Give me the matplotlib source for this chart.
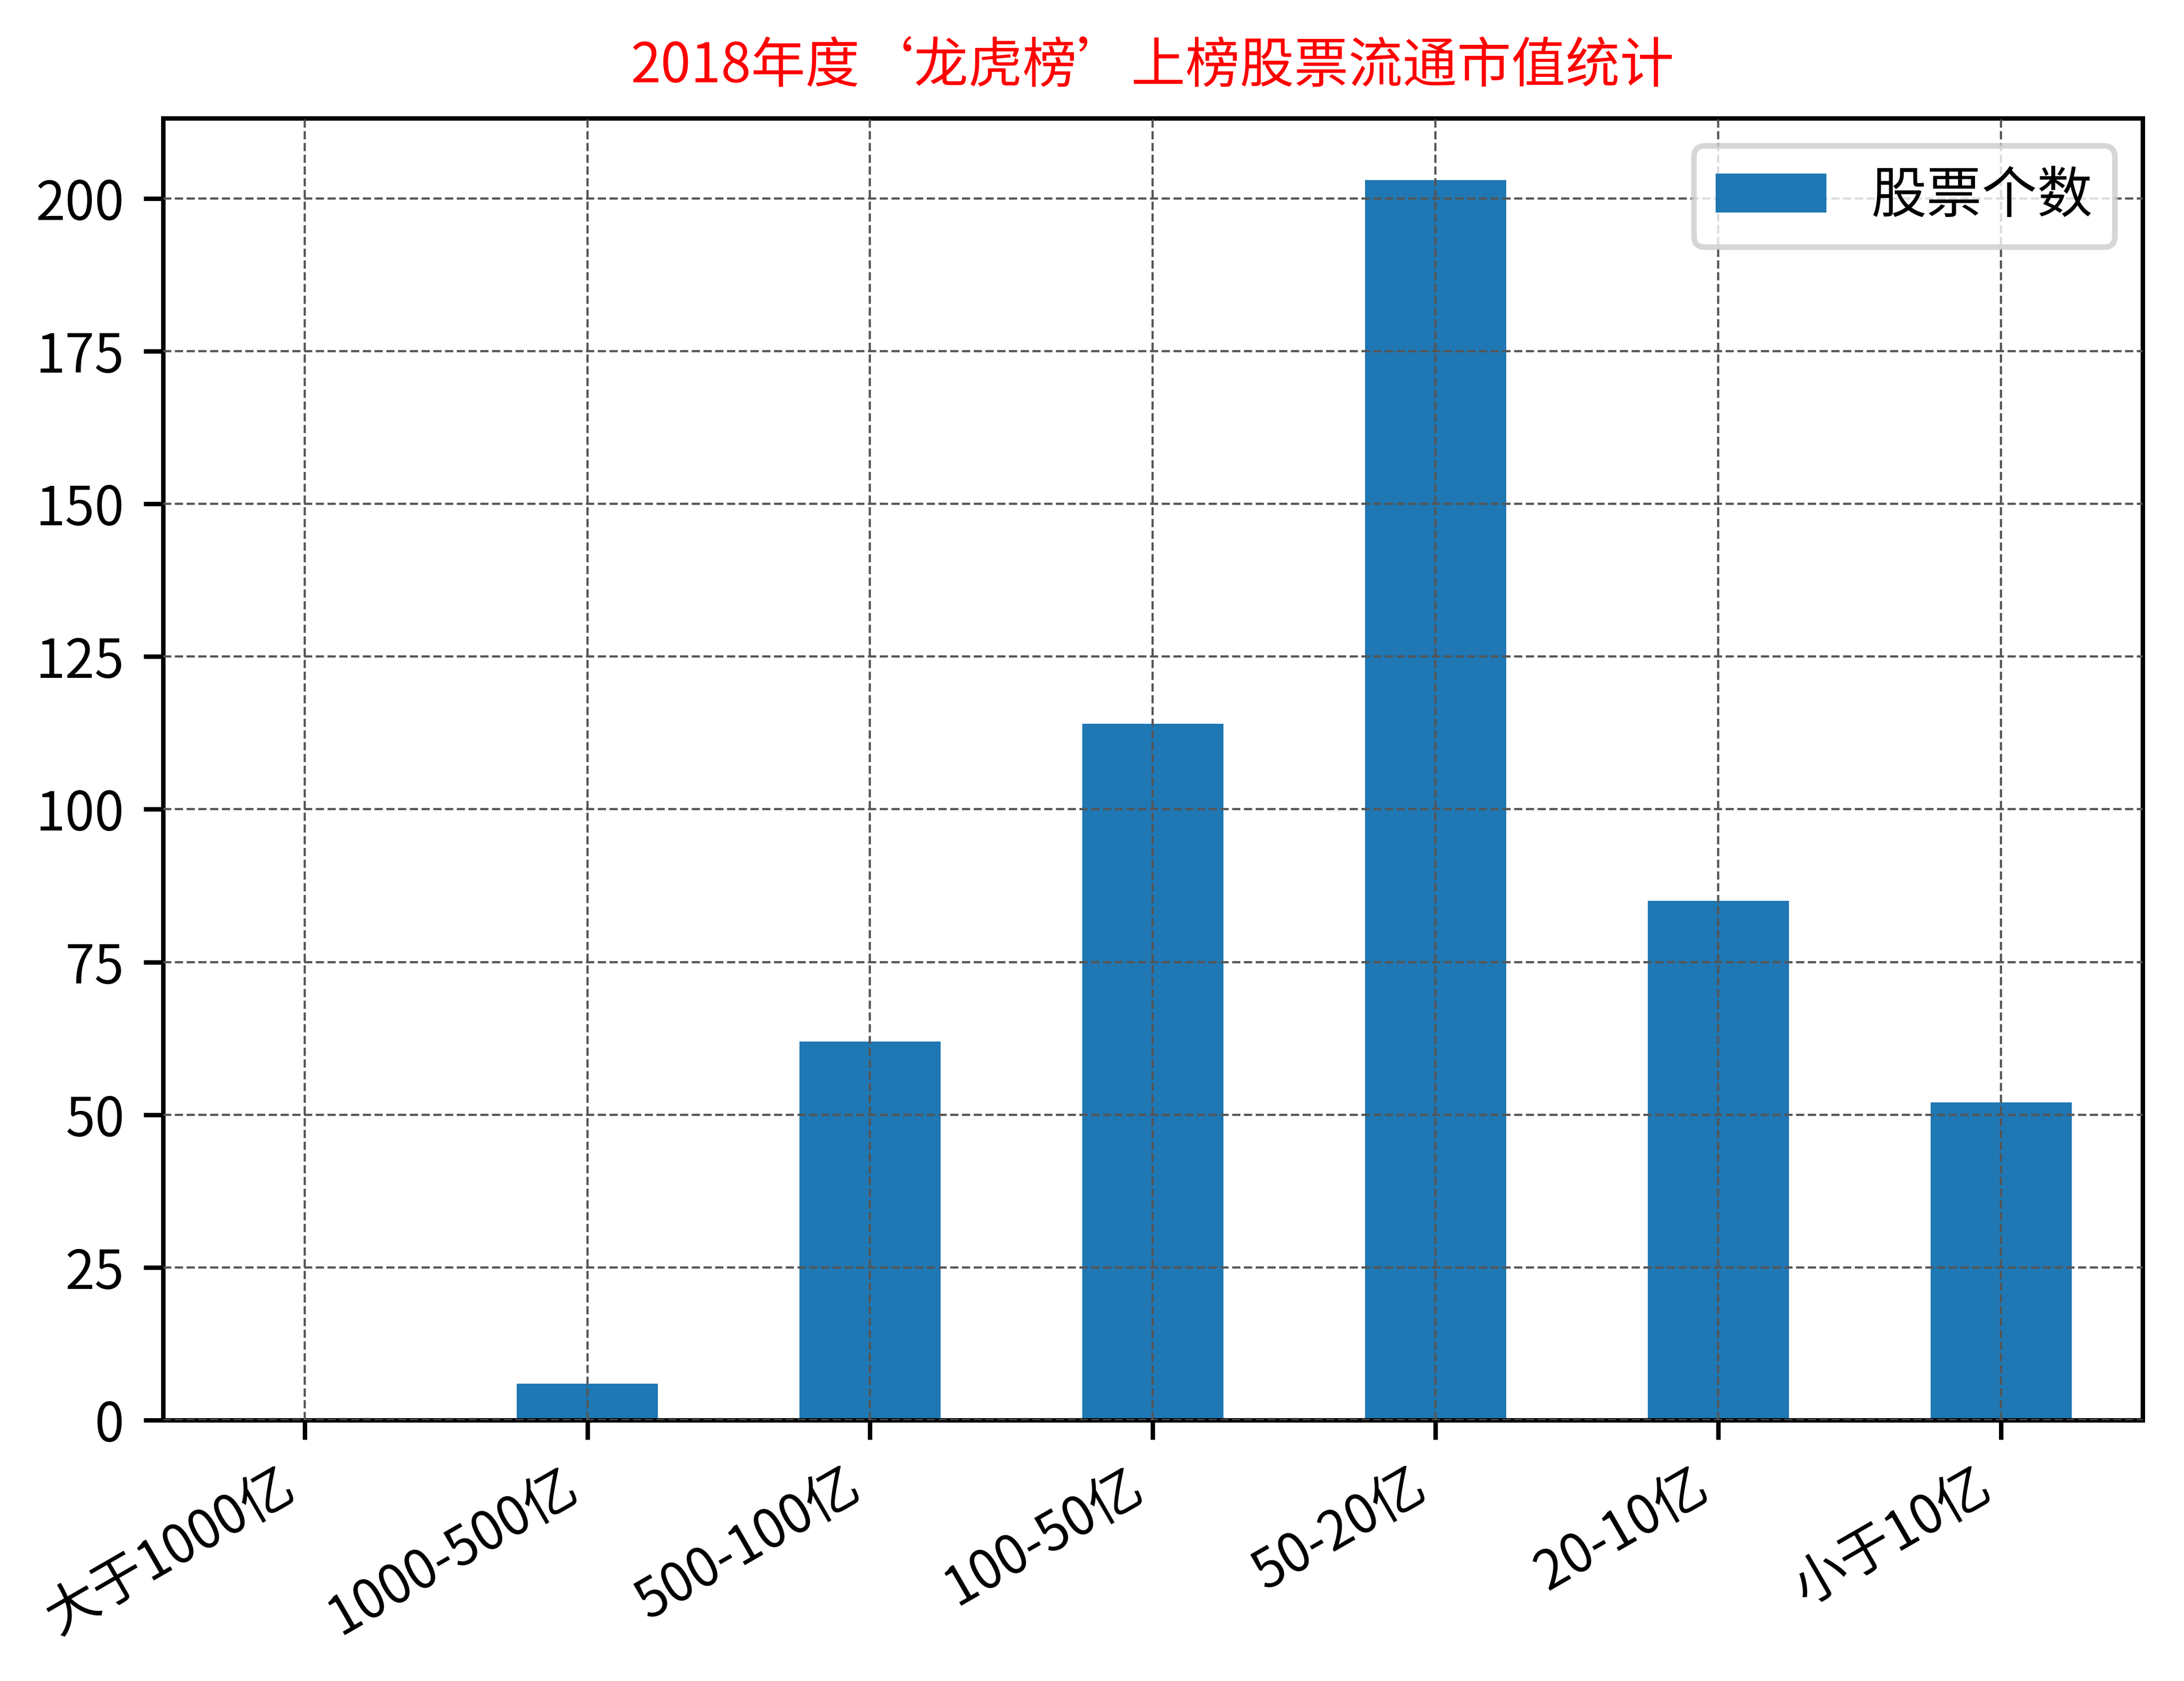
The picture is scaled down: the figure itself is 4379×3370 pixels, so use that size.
from matplotlib import pyplot as plt

plt.rcParams['font.family'] = ['Noto Sans CJK SC', 'DejaVu Sans']
plt.rcParams['axes.unicode_minus'] = False

# 流通市值区间 / 股票个数
categories = ['大于1000亿', '1000-500亿', '500-100亿', '100-50亿', '50-20亿', '20-10亿', '小于10亿']
counts = [0, 6, 62, 114, 203, 85, 52]
series_name = '股票个数'
title = '2018年度‘龙虎榜’上榜股票流通市值统计'

fig = plt.figure(figsize=(4379 / 800, 3370 / 800), dpi=800)
ax = fig.add_axes([0.0747, 0.1552, 0.981 - 0.0747, 0.9297 - 0.1552])

x = list(range(len(categories)))
ax.bar(x, counts, width=0.5, color='#1f77b4', label=series_name)
ax.set_xlim(-0.5, len(categories) - 0.5)

ax.set_xticks(x)
ax.set_xticklabels(categories, rotation=30, ha='right', fontsize=9.6)
ax.tick_params(axis='y', labelsize=9.6)
ax.set_yticks(range(0, 201, 25))

ax.grid(True, linestyle='--', linewidth=0.4, color='#555555')
ax.set_axisbelow(False)

ax.set_title(title, color='red', fontsize=9.8, pad=6.5)
ax.legend(loc='upper right', fontsize=10)

fig.savefig('out.png', dpi=800)
